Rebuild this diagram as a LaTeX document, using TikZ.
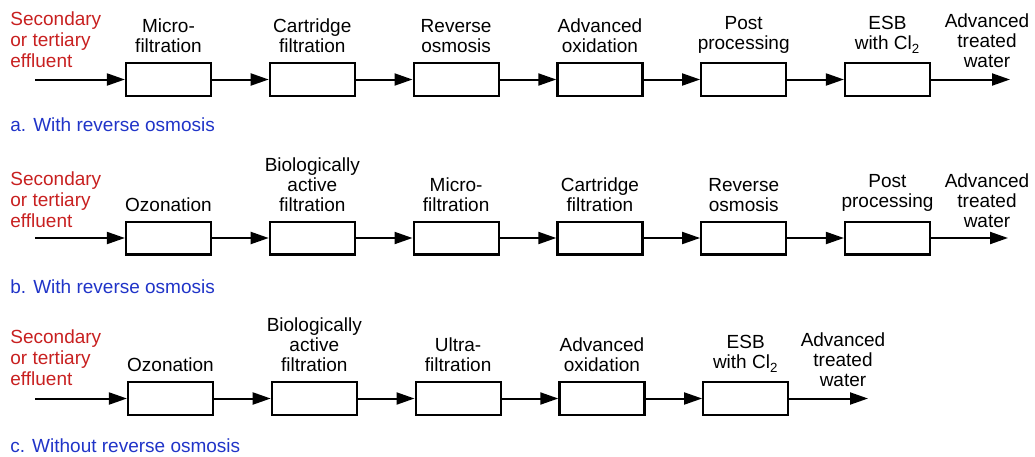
\documentclass[tikz,border=0pt]{standalone}
\usepackage{fontspec}
\setmainfont{Liberation Sans}
\usetikzlibrary{arrows.meta, positioning}
\definecolor{feedred}{RGB}{200,32,32}
\definecolor{capblue}{RGB}{32,52,200}

\begin{document}
\begin{tikzpicture}[x=0.5pt, y=-0.5pt,
	node distance=0pt and 28.3pt,
	font=\fontsize{9.5}{10}\selectfont,
	unit/.style={rectangle, draw, line width=1.1pt, minimum width=42.5pt,
		minimum height=16.4pt, inner sep=0pt},
	unitname/.style={align=center, inner sep=0pt},
	feed/.style={align=left, inner sep=0pt, text=feedred, anchor=base west,
		font=\fontsize{9.5}{10.5}\selectfont},
	product/.style={align=center, inner sep=0pt, anchor=base},
	caption/.style={inner sep=0pt, text=capblue, anchor=base west},
	line/.style={draw, line width=1pt, -{Triangle[length=9pt, width=6pt]}},
	]
	\useasboundingbox (0,0) rectangle (1035,456);

	% a. with reverse osmosis
	\node [unit] (a1) at (168.5,79.5) {};
	\node [unit, right= of a1] (a2) {};
	\node [unit, right= of a2] (a3) {};
	\node [unit, right= of a3] (a4) {};
	\node [unit, right= of a4] (a5) {};
	\node [unit, right= of a5] (a6) {};
	\node [unitname, above=4.3pt of a1] {Micro-\\filtration};
	\node [unitname, above=4.3pt of a2] {Cartridge\\filtration};
	\node [unitname, above=4.3pt of a3] {Reverse\\osmosis};
	\node [unitname, above=4.3pt of a4] {Advanced\\oxidation};
	\node [unitname, above=4.3pt of a5] {Post\\processing};
	\node [unitname, above=4.3pt of a6] {ESB\\with Cl\textsubscript{2}};
	\node [feed] (srca) at (10,67) {Secondary\\or tertiary\\effluent};
	\node [product] (prda) at (987,67) {Advanced\\treated\\water};
	\node [caption] (capa) at (10,131) {a. With reverse osmosis};
	\coordinate (ina) at (35,79.5);
	\coordinate (outa) at (1010,79.5);
	\path [line] (ina) -- (a1);
	\path [line] (a1) -- (a2);
	\path [line] (a2) -- (a3);
	\path [line] (a3) -- (a4);
	\path [line] (a4) -- (a5);
	\path [line] (a5) -- (a6);
	\path [line] (a6) -- (outa);

	% b. with reverse osmosis
	\node [unit] (b1) at (168.5,238) {};
	\node [unit, right= of b1] (b2) {};
	\node [unit, right= of b2] (b3) {};
	\node [unit, right= of b3] (b4) {};
	\node [unit, right= of b4] (b5) {};
	\node [unit, right= of b5] (b6) {};
	\node [unitname, above=4.3pt of b1] {Ozonation};
	\node [unitname, above=4.3pt of b2] {Biologically\\active\\filtration};
	\node [unitname, above=4.3pt of b3] {Micro-\\filtration};
	\node [unitname, above=4.3pt of b4] {Cartridge\\filtration};
	\node [unitname, above=4.3pt of b5] {Reverse\\osmosis};
	\node [unitname, above=4.3pt of b6] {Post\\processing};
	\node [feed] (srcb) at (10,227) {Secondary\\or tertiary\\effluent};
	\node [product] (prdb) at (987,227) {Advanced\\treated\\water};
	\node [caption] (capb) at (10,293) {b. With reverse osmosis};
	\coordinate (inb) at (35,238);
	\coordinate (outb) at (1008,238);
	\path [line] (inb) -- (b1);
	\path [line] (b1) -- (b2);
	\path [line] (b2) -- (b3);
	\path [line] (b3) -- (b4);
	\path [line] (b4) -- (b5);
	\path [line] (b5) -- (b6);
	\path [line] (b6) -- (outb);

	% c. without reverse osmosis
	\node [unit] (c1) at (170.5,398.5) {};
	\node [unit, right= of c1] (c2) {};
	\node [unit, right= of c2] (c3) {};
	\node [unit, right= of c3] (c4) {};
	\node [unit, right= of c4] (c5) {};
	\node [unitname, above=4.3pt of c1] {Ozonation};
	\node [unitname, above=4.3pt of c2] {Biologically\\active\\filtration};
	\node [unitname, above=4.3pt of c3] {Ultra-\\filtration};
	\node [unitname, above=4.3pt of c4] {Advanced\\oxidation};
	\node [unitname, above=4.3pt of c5] {ESB\\with Cl\textsubscript{2}};
	\node [feed] (srcc) at (10,385) {Secondary\\or tertiary\\effluent};
	\node [product] (prdc) at (843,386) {Advanced\\treated\\water};
	\node [caption] (capc) at (10,452) {c. Without reverse osmosis};
	\coordinate (inc) at (35,398.5);
	\coordinate (outc) at (868,398.5);
	\path [line] (inc) -- (c1);
	\path [line] (c1) -- (c2);
	\path [line] (c2) -- (c3);
	\path [line] (c3) -- (c4);
	\path [line] (c4) -- (c5);
	\path [line] (c5) -- (outc);
\end{tikzpicture}
\end{document}
